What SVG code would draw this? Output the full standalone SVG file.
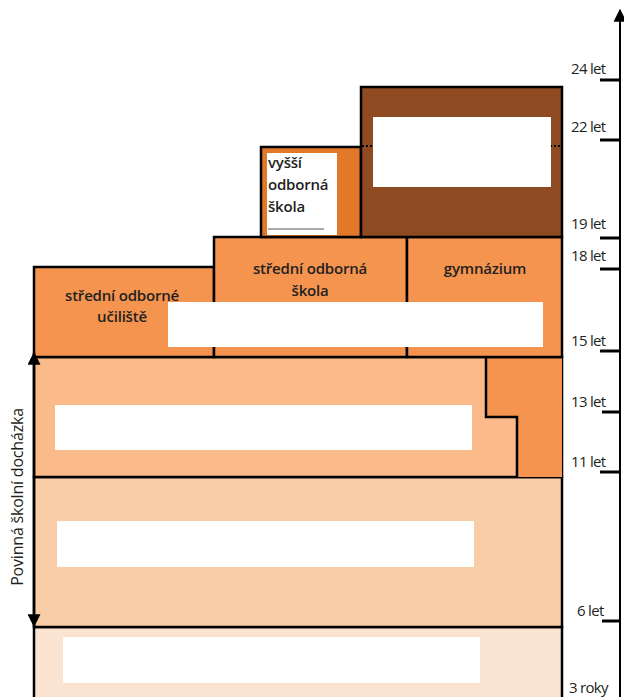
<svg xmlns="http://www.w3.org/2000/svg" width="624" height="697" viewBox="0 0 624 697">
<defs>
<style>
.b{stroke:#000;stroke-width:2.5}
.w{fill:#fff}
.t{font-family:"Open Sans","Noto Sans",sans-serif;font-size:15px;font-weight:600;fill:#231f20;letter-spacing:-0.2px}
.ax{font-family:"Open Sans","Noto Sans",sans-serif;font-size:15px;fill:#231f20;letter-spacing:-0.7px}
.tick{stroke:#000;stroke-width:3}
</style>
<marker id="ah" viewBox="0 0 10 10" refX="9" refY="5" markerWidth="15" markerHeight="13" orient="auto-start-reverse" markerUnits="userSpaceOnUse">
<path d="M0,0 L10,5 L0,10 Z" fill="#000"/>
</marker>
</defs>
<rect width="624" height="697" fill="#fff"/>

<g id="materska">
<rect x="34" y="627" width="528" height="72" fill="#FBE3D2" class="b"/>
<rect x="63" y="637" width="417" height="46" class="w"/>
</g>

<g id="zs1">
<rect x="34" y="477" width="528" height="150" fill="#FACDA9" class="b"/>
<rect x="57" y="521" width="417" height="46" class="w"/>
</g>

<g id="zs2">
<rect x="34" y="357" width="528" height="120" fill="#FBBA89" class="b"/>
<rect x="55" y="405" width="417" height="45" class="w"/>
</g>

<g id="viceleta-gymnazia">
<path d="M486,357 L486,417 L517,417 L517,477 L562,477 L562,357 Z" fill="#F5944F"/>
<path d="M486,357 L486,417 L517,417 L517,477" fill="none" class="b"/>
<line x1="486" y1="357" x2="562" y2="357" stroke="#000" stroke-width="2.5"/>
<line x1="505" y1="357" x2="560" y2="357" stroke="#F5944F" stroke-width="1" stroke-dasharray="4,4"/>
</g>

<g id="sou">
<rect x="34" y="267" width="180" height="90" fill="#F5944F" class="b"/>
<text class="t" text-anchor="middle" x="122" y="301">střední odborné</text>
<text class="t" text-anchor="middle" x="122" y="322">učiliště</text>
</g>

<g id="sos">
<rect x="214" y="237" width="193" height="120" fill="#F5944F" class="b"/>
<text class="t" text-anchor="middle" x="310" y="274">střední odborná</text>
<text class="t" text-anchor="middle" x="310" y="296">škola</text>
</g>

<g id="gymnazium">
<rect x="407" y="237" width="155" height="120" fill="#F5944F" class="b"/>
<text class="t" text-anchor="middle" x="485" y="274">gymnázium</text>
</g>

<rect x="168" y="302" width="375" height="45" class="w"/>

<g id="vos">
<rect x="261" y="147" width="100" height="90" fill="#E2782A" class="b"/>
<rect x="267" y="153" width="70" height="82" class="w"/>
<text class="t" x="268" y="168">vyšší</text>
<text class="t" x="268" y="190">odborná</text>
<text class="t" x="268" y="212">škola</text>
<line x1="268" y1="229" x2="324" y2="229" stroke="#555" stroke-width="1"/>
</g>

<g id="vs">
<rect x="361" y="87" width="201" height="150" fill="#8E4A21" class="b"/>
<line x1="362" y1="146" x2="561" y2="146" stroke="#000" stroke-width="2" stroke-dasharray="2,2"/>
<rect x="373" y="117" width="178" height="70" class="w"/>
</g>

<g id="connectors">
<line x1="34" y1="353" x2="34" y2="626" stroke="#000" stroke-width="2.5" marker-start="url(#ah)" marker-end="url(#ah)"/>
<line x1="620" y1="10" x2="620" y2="697" stroke="#000" stroke-width="2" marker-start="url(#ah)"/>
</g>

<g id="axis">
<line class="tick" x1="600" y1="80" x2="620" y2="80"/>
<line class="tick" x1="600" y1="140" x2="620" y2="140"/>
<line class="tick" x1="600" y1="238" x2="620" y2="238"/>
<line class="tick" x1="600" y1="269" x2="620" y2="269"/>
<line class="tick" x1="600" y1="351" x2="620" y2="351"/>
<line class="tick" x1="602" y1="412" x2="620" y2="412"/>
<line class="tick" x1="600" y1="472" x2="620" y2="472"/>
<line class="tick" x1="602" y1="621" x2="620" y2="621"/>
<text class="ax" x="571" y="74">24 let</text>
<text class="ax" x="571" y="132">22 let</text>
<text class="ax" x="571" y="229">19 let</text>
<text class="ax" x="571" y="261">18 let</text>
<text class="ax" x="571" y="346">15 let</text>
<text class="ax" x="571" y="407">13 let</text>
<text class="ax" x="571" y="467">11 let</text>
<text class="ax" x="577" y="616">6 let</text>
<text class="ax" x="569" y="693">3 roky</text>
</g>

<text class="ax" style="letter-spacing:-0.2px;font-size:16px" text-anchor="middle" transform="translate(23,497) rotate(-90)">Povinná školní docházka</text>
</svg>
